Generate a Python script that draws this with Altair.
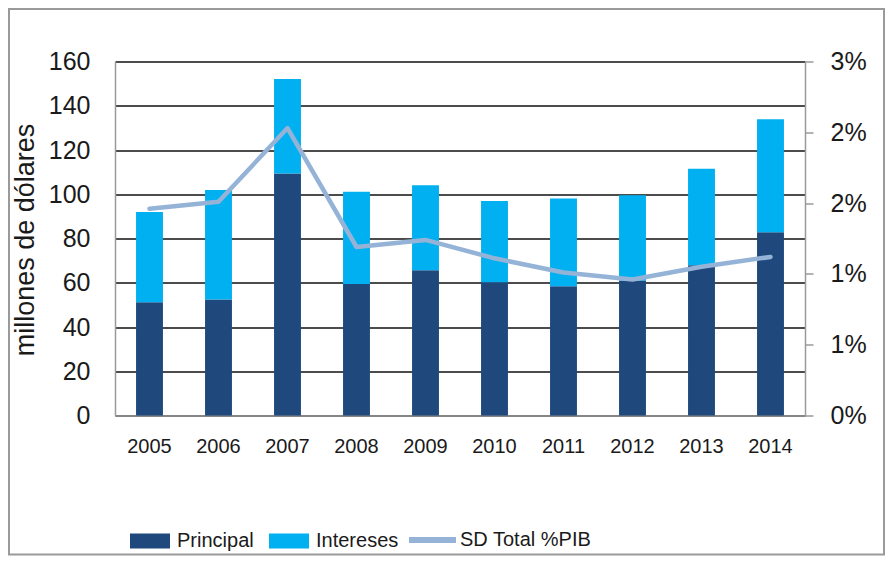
import altair as alt
import pandas as pd

years = ["2005", "2006", "2007", "2008", "2009", "2010", "2011", "2012", "2013", "2014"]
principal = [51.2, 52.4, 109.4, 59.4, 65.6, 60.2, 58.4, 61.0, 67.9, 82.8]
intereses = [40.8, 49.5, 42.7, 41.7, 38.5, 36.8, 39.7, 38.6, 43.6, 51.1]
sd_total_pib = [1.46, 1.51, 2.03, 1.19, 1.24, 1.11, 1.01, 0.96, 1.05, 1.12]

bar_series = ["Principal", "Intereses"]
bar_colors = ["#1F497D", "#00B0F0"]
line_series = ["SD Total %PIB"]
line_colors = ["#95B3D7"]

rows = []
for i, y in enumerate(years):
    rows.append({"year": y, "serie": "Principal", "value": principal[i], "ord": 0})
    rows.append({"year": y, "serie": "Intereses", "value": intereses[i], "ord": 1})
bars_df = pd.DataFrame(rows)
line_df = pd.DataFrame({"year": years, "linea": "SD Total %PIB", "pct": sd_total_pib})

FONT = "Liberation Sans"

x_enc = alt.X(
    "year:N",
    title=None,
    sort=years,
    scale=alt.Scale(paddingInner=0.61, paddingOuter=0.305),
    axis=alt.Axis(
        labelAngle=0, labelFont=FONT, labelFontSize=20, labelColor="#1a1a1a",
        ticks=False, tickSize=0, labelPadding=21, domainColor="#9a9a9a", domainWidth=1.5,
    ),
)

bar_legend = alt.Legend(
    title=None,
    orient="none",
    legendX=15,
    legendY=459.5,
    direction="horizontal",
    labelFont=FONT,
    labelFontSize=20,
    labelColor="#1a1a1a",
    labelOffset=7,
    columnPadding=15,
    symbolSize=1600,
    symbolStrokeWidth=0,
    symbolOpacity=1,
    padding=0,
    symbolType="M-1,-0.375L1,-0.375L1,0.375L-1,0.375Z",
)

line_legend = alt.Legend(
    title=None,
    orient="none",
    legendX=291,
    legendY=452,
    direction="horizontal",
    labelFont=FONT,
    labelFontSize=20,
    labelColor="#1a1a1a",
    labelOffset=1,
    symbolSize=2209,
    symbolType="stroke",
    symbolStrokeWidth=6,
    symbolOpacity=1,
    padding=0,
)

bars = alt.Chart(bars_df).mark_bar().encode(
    x=x_enc,
    y=alt.Y(
        "value:Q",
        stack="zero",
        title="millones de dólares",
        scale=alt.Scale(domain=[0, 160], nice=False),
        axis=alt.Axis(
            values=[0, 20, 40, 60, 80, 100, 120, 140, 160],
            labelFont=FONT, labelFontSize=25, labelColor="#1a1a1a", labelPadding=25,
            ticks=False, tickSize=0, domainColor="#9a9a9a", domainWidth=1.5,
            grid=True, gridColor="#111111", gridWidth=1.4,
            titleFont=FONT, titleFontSize=27, titleFontWeight="normal", titleColor="#1a1a1a",
            titleAngle=270, titleBaseline="alphabetic", titleAlign="center",
            titleX=-82, titleY=178,
        ),
    ),
    color=alt.Color("serie:N", scale=alt.Scale(domain=bar_series, range=bar_colors), legend=bar_legend),
    order=alt.Order("ord:Q"),
)

line = alt.Chart(line_df).mark_line(strokeWidth=4.5, strokeJoin="round", strokeCap="round").encode(
    x=alt.X("year:N", sort=years),
    y=alt.Y(
        "pct:Q",
        title=None,
        scale=alt.Scale(domain=[0, 2.5], nice=False),
        axis=alt.Axis(
            orient="right",
            values=[0, 0.5, 1, 1.5, 2, 2.5],
            labelExpr="round(datum.value + 0.01) + '%'",
            labelFont=FONT, labelFontSize=25, labelColor="#1a1a1a", labelPadding=17,
            ticks=True, tickSize=8, tickColor="#9a9a9a", tickWidth=1.5,
            domainColor="#9a9a9a", domainWidth=1.5, grid=False,
        ),
    ),
    stroke=alt.Stroke("linea:N", scale=alt.Scale(domain=line_series, range=line_colors), legend=line_legend),
)

border = alt.Chart(pd.DataFrame({"k": [0]})).mark_rect(
    fill=None, stroke="#9a9a9a", strokeWidth=2
).encode(
    x=alt.value(-106), x2=alt.value(769), y=alt.value(-52.5), y2=alt.value(493)
)

chart = alt.layer(bars, line, border).resolve_scale(y="independent").properties(
    width=690,
    height=354,
    padding={"left": 107, "top": 53.5, "right": 80, "bottom": 140.5},
    autosize=alt.AutoSizeParams(type="none"),
    background="white",
).configure_view(stroke=None)

chart.save("out.html", embed_options={"renderer": "svg", "actions": False})
